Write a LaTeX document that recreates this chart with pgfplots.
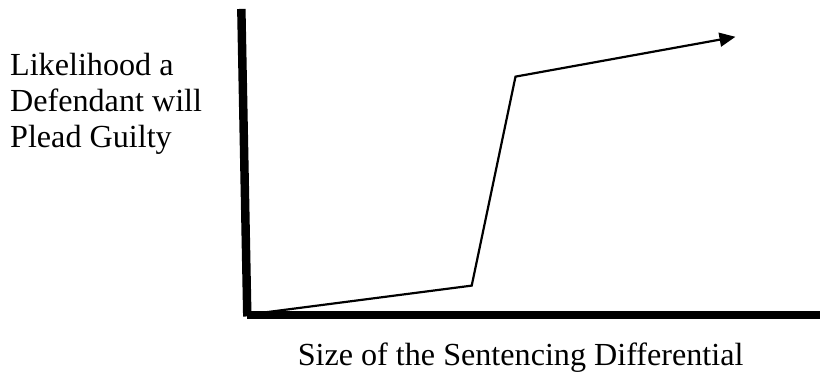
\documentclass[border=0pt]{standalone}
\usepackage{pgfplots}
\pgfplotsset{compat=1.18}
\usepackage{fontspec}
\setmainfont{Liberation Serif}
\usetikzlibrary{arrows.meta}
\begin{document}
\begin{tikzpicture}
\begin{axis}[
  scale only axis,
  width=824pt, height=376pt,
  xmin=0, xmax=824, ymin=0, ymax=376,
  hide axis, clip=false,
]
% invisible frame for bounding box
\addplot[draw=none] coordinates {(0,0) (824,376)};
% vertical axis (thick, slightly slanted)
\addplot[black, line width=8.5pt, line cap=butt] coordinates {(242.5,367) (248.5,58)};
% horizontal axis
\addplot[black, line width=8pt, line cap=butt] coordinates {(248,59) (824,59)};
% curve
\addplot[black, line width=2.2pt, line join=miter, -{Triangle[length=16pt,width=14pt]}]
  coordinates {(250,60) (474,89) (518,299) (739,339)};
% labels
\node[anchor=base west, font=\fontsize{32.3}{36}\selectfont, inner sep=0pt] at (axis cs:10,300.3) {Likelihood a};
\node[anchor=base west, font=\fontsize{32.3}{36}\selectfont, inner sep=0pt] at (axis cs:10,264) {Defendant will};
\node[anchor=base west, font=\fontsize{32.3}{36}\selectfont, inner sep=0pt] at (axis cs:10,228) {Plead Guilty};
\node[anchor=base west, font=\fontsize{32.3}{36}\selectfont, inner sep=0pt] at (axis cs:299,9) {Size of the Sentencing Differential};
\end{axis}
\end{tikzpicture}
\end{document}
